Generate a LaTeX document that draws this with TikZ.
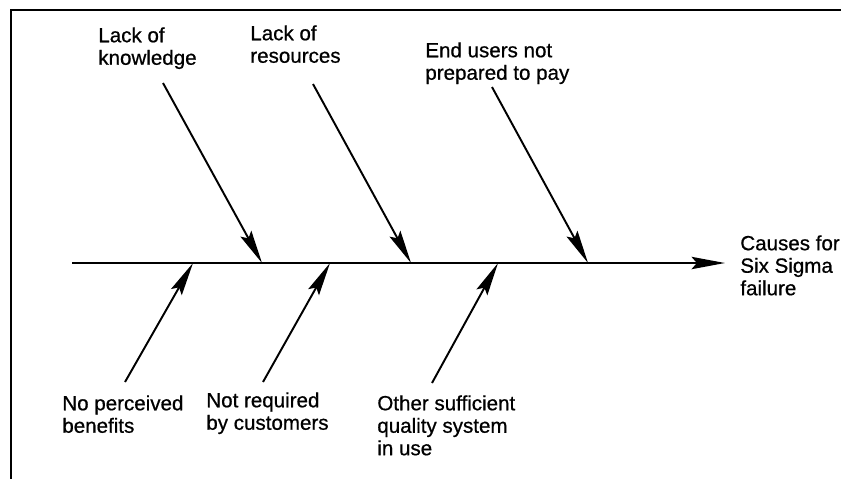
\documentclass[tikz,border=0pt]{standalone}
\usepackage{fontspec}
\setmainfont[FakeBold=0.7]{Liberation Sans}
\usepackage{tikz}
\usetikzlibrary{arrows.meta, positioning}
\tikzstyle{cause} = [inner sep=0pt, anchor=north west, align=left, font=\fontsize{11.7pt}{12.8pt}\selectfont]
\tikzstyle{branch} = [line width=1.1pt, -{Stealth[length=19pt, width=7pt, inset=3pt]}]
\tikzstyle{spine} = [line width=1.3pt, -{Stealth[length=19pt, width=7pt, inset=3pt]}]

\begin{document}
\begin{tikzpicture}[x=0.02cm, y=-0.02cm]
    \useasboundingbox (0,0) rectangle (841,478);
    % frame
    \draw [line width=1.5pt] (11,490) -- (11,10) -- (850,10);

    % causes above the spine
    \node (know) [cause] at (98,27) {Lack of\\knowledge};
    \node (res) [cause] at (250,25) {Lack of\\resources};
    \node (pay) [cause] at (425,42) {End users not\\prepared to pay};
    % causes below the spine
    \node (benef) [cause] at (62,395) {No perceived\\benefits};
    \node (cust) [cause] at (206,392) {Not required\\by customers};
    \node (other) [cause] at (377,395) {Other sufficient\\quality system\\in use};
    % effect
    \node (effect) [cause] at (740,235) {Causes for\\Six Sigma\\failure};

    % spine
    \coordinate (tail) at (72,263);
    \coordinate (head) at (725,263);
    \draw [spine] (tail) -- (head);

    % branch ends
    \coordinate (know-t) at (163,83);   \coordinate (know-h) at (262,263);
    \coordinate (res-t) at (313,84);    \coordinate (res-h) at (411,263);
    \coordinate (pay-t) at (492,87);    \coordinate (pay-h) at (588,263);
    \coordinate (benef-t) at (125,382); \coordinate (benef-h) at (193,263);
    \coordinate (cust-t) at (263,382);  \coordinate (cust-h) at (330,263);
    \coordinate (other-t) at (432,383); \coordinate (other-h) at (498,263);

    \foreach \c in {know, res, pay, benef, cust, other}
        \draw [branch] (\c-t) -- (\c-h);
\end{tikzpicture}
\end{document}
